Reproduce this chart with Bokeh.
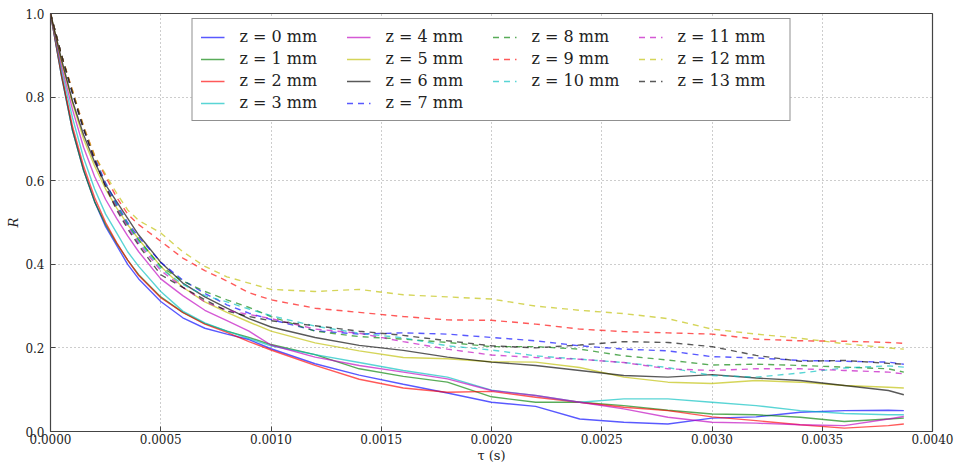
from bokeh.plotting import figure
from bokeh.models import Range1d, FixedTicker, PrintfTickFormatter, Legend, LegendItem
from bokeh.embed import file_html
from bokeh.resources import INLINE

# ---- data ----
tau = [0.0, 0.00005, 0.0001, 0.00015, 0.0002, 0.00025, 0.0003, 0.00035, 0.0004,
       0.0005, 0.0006, 0.0007, 0.0008, 0.0009, 0.0010, 0.0012, 0.0014, 0.0016,
       0.0018, 0.0020, 0.0022, 0.0024, 0.0026, 0.0028, 0.0030, 0.0032, 0.0034,
       0.0036, 0.0038, 0.00387]

R_z0 = [1.0, 0.85, 0.72, 0.625, 0.55, 0.49, 0.445, 0.40, 0.365, 0.311, 0.272, 0.247, 0.233, 0.22, 0.198,
        0.162, 0.135, 0.113, 0.092, 0.07, 0.06, 0.03, 0.022, 0.018, 0.032, 0.035, 0.046, 0.05, 0.051, 0.05]
R_z1 = [1.0, 0.85, 0.72, 0.625, 0.55, 0.495, 0.45, 0.41, 0.375, 0.322, 0.285, 0.258, 0.24, 0.225, 0.208,
        0.184, 0.15, 0.132, 0.118, 0.083, 0.07, 0.07, 0.062, 0.051, 0.042, 0.04, 0.034, 0.024, 0.03, 0.032]
R_z2 = [1.0, 0.855, 0.73, 0.635, 0.56, 0.50, 0.452, 0.41, 0.373, 0.32, 0.285, 0.257, 0.237, 0.215, 0.195,
        0.158, 0.125, 0.104, 0.094, 0.096, 0.082, 0.07, 0.058, 0.05, 0.035, 0.026, 0.016, 0.008, 0.014, 0.018]
R_z3 = [1.0, 0.865, 0.75, 0.655, 0.58, 0.52, 0.475, 0.43, 0.395, 0.335, 0.288, 0.26, 0.24, 0.222, 0.205,
        0.184, 0.165, 0.146, 0.13, 0.099, 0.086, 0.07, 0.078, 0.078, 0.07, 0.062, 0.05, 0.043, 0.04, 0.04]
R_z4 = [1.0, 0.875, 0.77, 0.68, 0.61, 0.555, 0.51, 0.468, 0.43, 0.365, 0.325, 0.29, 0.265, 0.24, 0.207,
        0.178, 0.158, 0.142, 0.126, 0.098, 0.086, 0.07, 0.054, 0.034, 0.022, 0.02, 0.016, 0.014, 0.03, 0.036]
R_z5 = [1.0, 0.885, 0.785, 0.70, 0.635, 0.58, 0.535, 0.495, 0.46, 0.395, 0.345, 0.31, 0.285, 0.262, 0.24,
        0.212, 0.193, 0.177, 0.174, 0.167, 0.166, 0.153, 0.13, 0.118, 0.115, 0.122, 0.118, 0.11, 0.106, 0.104]
R_z6 = [1.0, 0.89, 0.79, 0.71, 0.645, 0.59, 0.55, 0.51, 0.47, 0.405, 0.355, 0.322, 0.295, 0.27, 0.25,
        0.225, 0.206, 0.194, 0.178, 0.166, 0.158, 0.146, 0.134, 0.13, 0.136, 0.128, 0.122, 0.11, 0.098, 0.088]
R_z7 = [1.0, 0.9, 0.81, 0.725, 0.655, 0.595, 0.545, 0.5, 0.465, 0.405, 0.362, 0.33, 0.303, 0.283, 0.268,
        0.241, 0.233, 0.236, 0.233, 0.225, 0.217, 0.205, 0.197, 0.193, 0.179, 0.176, 0.17, 0.168, 0.166, 0.161]
R_z8 = [1.0, 0.9, 0.81, 0.725, 0.652, 0.59, 0.54, 0.495, 0.458, 0.395, 0.36, 0.335, 0.315, 0.297, 0.275,
        0.24, 0.227, 0.221, 0.213, 0.203, 0.203, 0.197, 0.181, 0.171, 0.159, 0.161, 0.158, 0.154, 0.15, 0.142]
R_z9 = [1.0, 0.9, 0.815, 0.73, 0.66, 0.61, 0.56, 0.52, 0.495, 0.455, 0.415, 0.385, 0.36, 0.332, 0.315,
        0.295, 0.285, 0.275, 0.267, 0.266, 0.257, 0.245, 0.239, 0.236, 0.233, 0.221, 0.217, 0.216, 0.213, 0.211]
R_z10 = [1.0, 0.9, 0.81, 0.725, 0.652, 0.59, 0.54, 0.495, 0.455, 0.39, 0.352, 0.325, 0.31, 0.293, 0.277,
         0.252, 0.235, 0.224, 0.205, 0.195, 0.181, 0.173, 0.165, 0.153, 0.134, 0.13, 0.14, 0.152, 0.157, 0.154]
R_z11 = [1.0, 0.9, 0.81, 0.725, 0.65, 0.588, 0.535, 0.49, 0.45, 0.385, 0.345, 0.31, 0.29, 0.28, 0.27,
         0.245, 0.235, 0.215, 0.197, 0.183, 0.177, 0.173, 0.165, 0.15, 0.146, 0.15, 0.15, 0.146, 0.142, 0.138]
R_z12 = [1.0, 0.9, 0.815, 0.73, 0.66, 0.615, 0.57, 0.53, 0.505, 0.475, 0.43, 0.395, 0.37, 0.355, 0.34,
         0.335, 0.34, 0.327, 0.322, 0.317, 0.30, 0.29, 0.282, 0.27, 0.245, 0.233, 0.223, 0.21, 0.20, 0.197]
R_z13 = [1.0, 0.9, 0.81, 0.725, 0.65, 0.585, 0.53, 0.485, 0.445, 0.375, 0.345, 0.315, 0.288, 0.275, 0.265,
         0.253, 0.24, 0.23, 0.217, 0.205, 0.2, 0.207, 0.215, 0.213, 0.203, 0.182, 0.168, 0.17, 0.163, 0.161]

series = [R_z0, R_z1, R_z2, R_z3, R_z4, R_z5, R_z6,
          R_z7, R_z8, R_z9, R_z10, R_z11, R_z12, R_z13]
labels = ["z = %d mm" % i for i in range(14)]

x_ticks = [0.0, 0.0005, 0.0010, 0.0015, 0.0020, 0.0025, 0.0030, 0.0035, 0.0040]
y_ticks = [0.0, 0.2, 0.4, 0.6, 0.8, 1.0]

# ---- style ----
base_colors = ["#0000ff", "#008000", "#ff0000", "#00bfbf", "#bf00bf", "#bfbf00", "#000000"]
colors = base_colors + base_colors
dashes = ["solid"] * 7 + ["6 5"] * 7
FONT = "DejaVu Serif"

p = figure(width=956, height=468, output_backend="svg", toolbar_location=None,
           x_range=Range1d(0, 0.004), y_range=Range1d(0, 1.0),
           min_border_left=50, min_border_right=24, min_border_top=13, min_border_bottom=37,
           x_axis_label="τ (s)", y_axis_label="R")
p.background_fill_color = "white"
p.border_fill_color = "white"
p.outline_line_color = "#444444"
p.outline_line_width = 1.2

for ax in (p.xaxis[0], p.yaxis[0]):
    ax.major_tick_in = 5
    ax.major_tick_out = 0
    ax.minor_tick_line_color = None
    ax.axis_line_color = None
    ax.major_tick_line_color = "#444444"
    ax.major_label_text_font = FONT
    ax.major_label_text_font_size = "12px"
    ax.major_label_text_color = "#222222"
    ax.axis_label_text_font = FONT
    ax.axis_label_text_font_size = "13px"
    ax.axis_label_text_color = "#222222"

p.xaxis[0].ticker = FixedTicker(ticks=x_ticks)
p.xaxis[0].formatter = PrintfTickFormatter(format="%.4f")
p.xaxis[0].major_label_standoff = 2
p.xaxis[0].axis_label_standoff = 1
p.xaxis[0].axis_label_text_font_style = "normal"
p.yaxis[0].ticker = FixedTicker(ticks=y_ticks)
p.yaxis[0].formatter = PrintfTickFormatter(format="%.1f")
p.yaxis[0].major_label_standoff = 6
p.yaxis[0].axis_label_standoff = 1
p.yaxis[0].axis_label_text_font_style = "italic"

p.xgrid.ticker = FixedTicker(ticks=x_ticks)
p.ygrid.ticker = FixedTicker(ticks=y_ticks)
p.grid.grid_line_color = "#9a9a9a"
p.grid.grid_line_dash = "1 3"
p.grid.grid_line_width = 1

items = []
for ys, c, d, lab in zip(series, colors, dashes, labels):
    r = p.line(tau, ys, line_color=c, line_dash=d, line_width=1.4, line_alpha=0.65)
    items.append(LegendItem(label=lab, renderers=[r]))

# matplotlib-style column fill: 4, 4, 3, 3 items per column
order = [0, 4, 8, 11, 1, 5, 9, 12, 2, 6, 10, 13, 3, 7]
legend = Legend(items=[items[i] for i in order], ncols=4, orientation="horizontal",
                location="top_center",
                margin=5, padding=8, spacing=3, glyph_width=24, glyph_height=16,
                label_width=104, label_height=16, label_standoff=15,
                label_text_font=FONT, label_text_font_size="16px",
                label_text_color="#222222",
                border_line_color="#222222", border_line_width=1,
                background_fill_color="white", background_fill_alpha=1.0)
p.add_layout(legend, "center")

open("out.html", "w").write(file_html(p, INLINE))
